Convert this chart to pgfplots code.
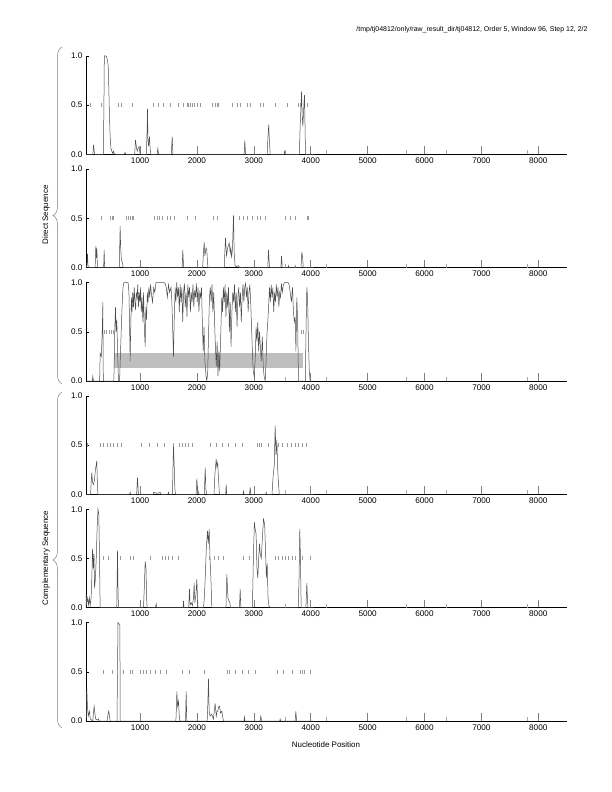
\documentclass[border=0pt]{standalone}
\usepackage{pgfplots}
\pgfplotsset{compat=1.18}
\usepackage{fontspec}
\setmainfont{Liberation Sans}
\usetikzlibrary{decorations.pathreplacing}
\pgfplotsset{
  panel/.style={
    scale only axis, width=480.7bp, height=98.5bp,
    xmin=50, xmax=8500, ymin=0, ymax=1,
    axis x line=bottom, axis y line=left,
    axis line style={-, black, line width=0.6bp},
    xtick={1000,2000,3000,4000,5000,6000,7000,8000},
    xticklabels={1000,2000,3000,4000,5000,6000,7000,8000},
    ytick={0,0.5,1}, yticklabels={0.0,0.5,1.0},
    tick align=inside,
    xtick style={gray, line width=0.5bp, /pgfplots/major tick length=8bp},
    ytick style={black, line width=0.5bp, /pgfplots/major tick length=3bp},
    extra x ticks={3550,4265,5685,6390,7800},
    extra x tick labels={},
    extra x tick style={xtick style={gray!70, line width=0.4bp, /pgfplots/major tick length=4bp}},
    ticklabel style={font=\fontsize{8.2}{9}\selectfont},
    /pgf/number format/assume math mode=true,
    anchor=south west, clip=false, minor tick num=0,
  },
  curve/.style={black!70, line width=0.5bp, no marks},
  stops/.style={only marks, mark=|, mark size=2bp, gray!80, mark options={line width=0.4bp}},
}
\begin{document}
\begin{tikzpicture}
\path[use as bounding box] (0,0) rectangle (612bp,-792bp);

% Panel 1
\begin{axis}[panel, at={(86bp,-154.3bp)}]
\addplot[curve] coordinates {(50,0) (170,0) (182,0.095) (195,0.03) (205,0) (355,0) (365,0.5) (372,1.0) (395,1.0) (410,0.99) (425,0.96) (440,0.9) (452,0.65) (462,0.4) (472,0.22) (480,0.12) (490,0.06) (505,0.03) (520,0.01) (533,0.03) (545,0.01) (560,0) (720,0) (738,0.02) (750,0) (905,0) (920,0.145) (935,0.08) (950,0.03) (965,0.06) (985,0.08) (995,0.02) (1010,0) (1110,0) (1122,0.2) (1131,0.46) (1140,0.15) (1150,0.08) (1166,0.18) (1178,0.05) (1190,0) (1300,0) (1313,0.06) (1325,0) (1550,0) (1565,0.18) (1578,0) (2830,0) (2842,0.14) (2855,0) (3235,0) (3250,0.2) (3262,0.3) (3275,0.12) (3288,0) (3530,0) (3540,0.03) (3555,0) (3800,0) (3815,0.3) (3830,0.5) (3839,0.64) (3850,0.4) (3862,0.28) (3875,0.45) (3891,0.6) (3900,0.3) (3908,0) (4050,0)};
\addplot[stops] coordinates {(123,0.5) (316,0.5) (621,0.5) (662,0.5) (867,0.5) (1236,0.5) (1324,0.5) (1412,0.5) (1529,0.5) (1676,0.5) (1764,0.5) (1822,0.5) (1852,0.5) (1881,0.5) (1922,0.5) (1957,0.5) (1998,0.5) (2057,0.5) (2262,0.5) (2321,0.5) (2350,0.5) (2379,0.5) (2614,0.5) (2702,0.5) (2760,0.5) (2878,0.5) (2936,0.5) (3112,0.5) (3171,0.5) (3376,0.5) (3581,0.5) (3786,0.5) (3815,0.5) (3942,0.5)};
\end{axis}

% Panel 2
\begin{axis}[panel, at={(86bp,-267.6bp)}]
\addplot[curve] coordinates {(50,0) (65,0.02) (76,0.14) (86,0.02) (95,0) (210,0) (223,0.22) (233,0.1) (240,0.2) (252,0) (360,0) (369,0.18) (378,0) (635,0) (650,0.42) (660,0.2) (672,0.08) (690,0.05) (705,0) (1740,0) (1752,0.18) (1765,0) (2100,0) (2115,0.15) (2127,0.26) (2140,0.12) (2160,0.2) (2174,0.18) (2185,0.05) (2195,0) (2480,0) (2490,0.15) (2502,0.3) (2520,0.12) (2540,0.2) (2567,0.25) (2585,0.15) (2596,0.2) (2610,0.1) (2625,0.2) (2643,0.53) (2655,0.15) (2670,0.02) (2690,0.01) (2730,0.02) (2750,0) (3245,0) (3258,0.18) (3270,0.05) (3280,0) (3475,0) (3487,0.12) (3500,0) (3600,0) (3610,0.02) (3620,0) (3720,0) (3726,0.02) (3735,0) (3830,0) (3844,0.16) (3858,0.1) (3870,0) (4050,0)};
\addplot[stops] coordinates {(311,0.5) (475,0.5) (504,0.5) (533,0.5) (750,0.5) (785,0.5) (826,0.5) (855,0.5) (885,0.5) (1248,0.5) (1295,0.5) (1342,0.5) (1394,0.5) (1471,0.5) (1529,0.5) (1600,0.5) (1834,0.5) (1969,0.5) (2291,0.5) (2350,0.5) (2748,0.5) (2819,0.5) (2890,0.5) (2966,0.5) (3053,0.5) (3112,0.5) (3200,0.5) (3551,0.5) (3639,0.5) (3727,0.5) (3932,0.5) (3961,0.5)};
\end{axis}

% Panel 3
\begin{axis}[panel, at={(86bp,-381.0bp)}]
\addplot[fill=black!25, draw=none] coordinates {(550,0.135) (3872,0.135) (3872,0.28) (550,0.28)} -- cycle;
\addplot[curve] coordinates {(50,0) (160,0) (170,0.05) (180,0) (290,0) (299,0.28) (320,0.25) (335,0.5) (346,0.8) (352,0.1) (358,0) (540,0) (555,0.5) (568,0.75) (580,0.5) (592,0.62) (605,0.3) (621,0) (640,0) (660,0.35) (680,0.7) (700,0.95) (715,1.0) (790,1.0) (805,0.9) (818,0.5) (826,0.2) (835,0.5) (848,0.85) (860,0.7) (872,0.9) (885,0.75) (898,0.95) (910,0.8) (922,0.72) (935,0.9) (948,0.85) (960,0.98) (972,0.75) (985,0.9) (998,0.8) (1010,0.95) (1022,0.7) (1035,0.85) (1050,0.6) (1062,0.9) (1075,0.55) (1090,0.35) (1102,0.75) (1115,0.62) (1128,0.9) (1140,0.8) (1155,0.95) (1170,0.85) (1185,0.98) (1200,0.88) (1220,0.8) (1240,0.95) (1260,0.9) (1280,1.0) (1300,1.0) (1420,1.0) (1440,0.99) (1460,0.95) (1480,0.85) (1500,0.98) (1520,0.9) (1545,0.95) (1560,0.8) (1575,0.5) (1588,0.25) (1600,0.6) (1617,0.95) (1630,0.8) (1645,1.0) (1660,0.85) (1675,0.95) (1690,0.7) (1705,0.98) (1720,0.8) (1735,0.95) (1750,0.6) (1765,0.9) (1780,0.99) (1795,0.75) (1810,0.9) (1825,0.65) (1840,0.98) (1855,0.85) (1870,0.95) (1885,0.7) (1900,0.9) (1915,0.8) (1930,0.98) (1945,0.75) (1960,0.92) (1975,0.85) (1990,0.99) (2005,0.8) (2020,0.95) (2035,0.7) (2050,0.9) (2065,0.85) (2080,0.95) (2095,0.6) (2110,0.3) (2125,0.55) (2140,0.2) (2160,0.05) (2174,0.0) (2190,0.1) (2205,0.5) (2220,0.85) (2235,0.95) (2250,0.8) (2265,0.98) (2280,0.7) (2295,0.9) (2310,0.6) (2325,0.35) (2340,0.15) (2355,0.4) (2370,0.05) (2385,0.3) (2400,0.1) (2420,0.5) (2437,0.85) (2450,0.7) (2465,0.95) (2480,0.8) (2495,0.98) (2510,0.65) (2525,0.9) (2540,0.75) (2555,0.95) (2570,0.5) (2585,0.8) (2600,0.35) (2615,0.7) (2630,0.9) (2645,0.8) (2660,0.98) (2675,0.7) (2690,0.9) (2705,0.55) (2720,0.85) (2735,0.95) (2750,0.75) (2765,0.9) (2780,0.6) (2795,0.85) (2810,0.98) (2825,0.8) (2840,0.95) (2855,0.99) (2870,0.85) (2885,0.95) (2900,0.7) (2915,0.9) (2930,0.98) (2945,0.8) (2960,0.55) (2975,0.3) (2990,0.1) (3005,0.05) (3023,0.2) (3040,0.55) (3055,0.4) (3070,0.6) (3085,0.3) (3100,0.5) (3115,0.35) (3130,0.2) (3150,0.45) (3165,0.15) (3180,0.05) (3200,0.0) (3215,0.2) (3229,0.45) (3245,0.6) (3260,0.75) (3275,0.95) (3290,0.8) (3305,0.98) (3320,0.85) (3335,0.95) (3350,0.7) (3365,0.9) (3380,0.8) (3395,0.98) (3410,0.85) (3425,0.95) (3440,0.75) (3455,0.9) (3470,0.85) (3485,0.99) (3500,0.9) (3520,0.98) (3540,1.0) (3600,1.0) (3620,0.98) (3640,0.9) (3660,0.8) (3680,0.95) (3697,0.7) (3712,0.6) (3727,0.65) (3740,0.3) (3756,0.85) (3770,0.6) (3785,0.0) (3800,0) (3905,0) (3920,0.6) (3932,0.95) (3945,0.85) (3960,0.4) (3975,0.1) (3990,0) (4050,0)};
\addplot[stops] coordinates {(369,0.5) (410,0.5) (451,0.5) (492,0.5) (533,0.5) (3830,0.5) (3860,0.5)};
\end{axis}

% Panel 4
\begin{axis}[panel, at={(86bp,-494.3bp)}]
\addplot[curve] coordinates {(50,0) (130,0) (141,0.12) (152,0.22) (165,0.12) (182,0.1) (200,0.15) (215,0.25) (230,0.3) (240,0.34) (250,0.1) (260,0) (815,0) (826,0.02) (835,0) (940,0) (955,0.17) (968,0.03) (980,0) (1230,0) (1240,0.02) (1300,0.01) (1354,0.02) (1365,0) (1490,0) (1500,0.02) (1510,0) (1570,0) (1580,0.3) (1588,0.5) (1600,0.3) (1612,0.05) (1625,0) (1985,0) (1998,0.16) (2010,0.05) (2025,0.02) (2040,0) (2130,0) (2145,0.27) (2158,0.05) (2170,0) (2300,0) (2315,0.2) (2330,0.3) (2338,0.36) (2350,0.28) (2365,0.32) (2380,0.15) (2395,0) (2505,0) (2514,0.1) (2523,0) (2810,0) (2819,0.03) (2828,0) (2925,0) (2936,0.07) (2947,0) (3210,0) (3217,0.02) (3225,0) (3320,0) (3335,0.15) (3346,0.22) (3360,0.3) (3375,0.7) (3390,0.4) (3405,0.55) (3420,0.25) (3434,0.1) (3448,0) (4050,0)};
\addplot[stops] coordinates {(76,0.5) (299,0.5) (358,0.5) (416,0.5) (475,0.5) (533,0.5) (604,0.5) (668,0.5) (1020,0.5) (1160,0.5) (1295,0.5) (1430,0.5) (1576,0.5) (1688,0.5) (1734,0.5) (1793,0.5) (1852,0.5) (1922,0.5) (2233,0.5) (2338,0.5) (2450,0.5) (2555,0.5) (2672,0.5) (2790,0.5) (3053,0.5) (3088,0.5) (3123,0.5) (3258,0.5) (3434,0.5) (3493,0.5) (3581,0.5) (3657,0.5) (3727,0.5) (3786,0.5) (3844,0.5) (3920,0.5)};
\end{axis}

% Panel 5
\begin{axis}[panel, at={(86bp,-607.7bp)}]
\addplot[curve] coordinates {(50,0) (53,0.14) (65,0.05) (80,0.1) (95,0.03) (110,0.1) (123,0.02) (140,0.1) (152,0.3) (165,0.6) (178,0.4) (190,0.55) (200,0.2) (215,0.3) (230,0.5) (245,0.8) (260,1.0) (275,0.95) (285,0.6) (299,0) (590,0) (604,0.58) (615,0.1) (625,0) (1060,0) (1075,0.2) (1090,0.47) (1105,0.4) (1115,0.1) (1125,0) (1270,0) (1283,0.04) (1295,0) (1755,0) (1764,0.07) (1773,0) (1855,0) (1869,0.19) (1880,0.03) (1900,0.05) (1920,0.02) (1940,0.1) (1951,0.25) (1965,0.05) (1985,0.15) (1998,0.29) (2010,0.1) (2020,0) (2115,0) (2130,0.1) (2145,0.3) (2165,0.6) (2186,0.78) (2200,0.65) (2215,0.8) (2230,0.5) (2245,0.3) (2262,0) (2510,0) (2526,0.34) (2545,0.1) (2560,0.07) (2575,0.06) (2590,0) (2748,0) (2760,0.19) (2772,0) (2975,0) (2994,0.55) (3010,0.87) (3023,0.8) (3040,0.75) (3055,0.4) (3070,0.3) (3085,0.5) (3100,0.65) (3112,0.55) (3130,0.5) (3150,0.7) (3170,0.9) (3190,0.85) (3205,0.6) (3220,0.3) (3235,0.45) (3250,0.1) (3265,0.02) (3288,0) (3780,0) (3795,0.3) (3808,0.8) (3820,0.5) (3832,0) (3915,0) (3932,0.25) (3945,0.05) (3955,0) (4050,0)};
\addplot[stops] coordinates {(357,0.5) (445,0.5) (650,0.5) (826,0.5) (873,0.5) (1178,0.5) (1383,0.5) (1442,0.5) (1500,0.5) (1559,0.5) (1676,0.5) (2221,0.5) (2303,0.5) (2379,0.5) (2467,0.5) (2819,0.5) (2924,0.5) (3375,0.5) (3434,0.5) (3493,0.5) (3551,0.5) (3610,0.5) (3669,0.5) (3727,0.5) (3844,0.5) (3991,0.5)};
\end{axis}

% Panel 6
\begin{axis}[panel, at={(86bp,-721.0bp)}]
\addplot[curve] coordinates {(50,0) (58,0.05) (64,0.33) (75,0.15) (90,0.05) (111,0.1) (125,0.02) (170,0) (183,0.1) (193,0.15) (205,0.08) (220,0.02) (250,0.01) (270,0.02) (285,0) (420,0) (435,0.06) (450,0.1) (463,0.05) (475,0) (595,0) (604,0.5) (612,1.0) (625,0.99) (645,0.97) (652,0.0) (1630,0) (1640,0.15) (1647,0.3) (1660,0.15) (1676,0.2) (1690,0.05) (1700,0) (1800,0) (1811,0.3) (1822,0) (2180,0) (2190,0.15) (2203,0.43) (2215,0.1) (2230,0.05) (2260,0.07) (2290,0.02) (2305,0.1) (2320,0.18) (2340,0.05) (2355,0.1) (2367,0.1) (2380,0.14) (2397,0.15) (2415,0.08) (2438,0.1) (2455,0.03) (2470,0) (2828,0) (2836,0.04) (2845,0) (3110,0) (3123,0.05) (3138,0) (3455,0) (3463,0.02) (3472,0) (3725,0) (3739,0.1) (3752,0) (4050,0)};
\addplot[stops] coordinates {(346,0.5) (504,0.5) (604,0.5) (709,0.5) (826,0.5) (867,0.5) (1002,0.5) (1061,0.5) (1102,0.5) (1178,0.5) (1266,0.5) (1354,0.5) (1453,0.5) (1735,0.5) (1869,0.5) (2133,0.5) (2526,0.5) (2561,0.5) (2672,0.5) (2790,0.5) (2907,0.5) (3024,0.5) (3405,0.5) (3522,0.5) (3669,0.5) (3815,0.5) (3844,0.5) (3885,0.5) (3991,0.5)};
\end{axis}

% Braces and labels
\draw[gray, line width=0.5bp, decorate, decoration={brace, amplitude=9bp}] (62bp,-384bp) -- (62bp,-47bp);
\draw[gray, line width=0.5bp, decorate, decoration={brace, amplitude=9bp}] (62bp,-728bp) -- (62bp,-392bp);
\node[rotate=90, font=\fontsize{8}{9}\selectfont] at (46bp,-215bp) {Direct Sequence};
\node[rotate=90, font=\fontsize{8}{9}\selectfont] at (46bp,-558bp) {Complementary Sequence};
\node[font=\fontsize{8}{9}\selectfont] at (326bp,-745bp) {Nucleotide Position};
\node[anchor=east, font=\fontsize{7}{8.5}\selectfont] at (591bp,-30bp) {/tmp/tj04812/only/raw\_result\_dir/tj04812, Order 5, Window 96, Step 12, 2/2};
\end{tikzpicture}
\end{document}
